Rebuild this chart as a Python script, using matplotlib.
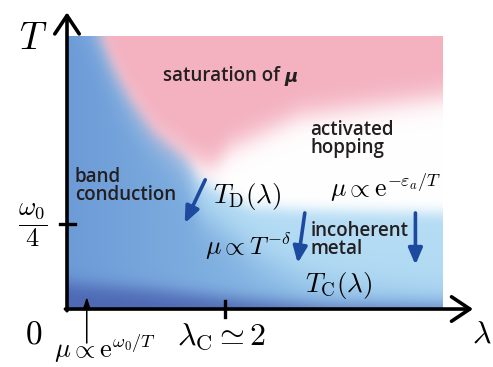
import numpy as np
import matplotlib.pyplot as plt
from matplotlib.colors import to_rgb

plt.rcParams['mathtext.fontset'] = 'cm'

# units: lambda_C = 2 on the x axis, omega_0/4 = 1 on the T axis
lam_max, T_max = 4.75, 3.21
lam_c, T_tick = 2.0, 1.0

# lower edge of the pink "saturation" region
pink_lam = [0.0, 0.30, 0.42, 0.58, 0.80, 1.09, 1.52, 1.77, 1.90, 2.06, 2.95, 4.75]
pink_T = [4.2, 3.55, 3.21, 2.85, 2.46, 2.07, 1.78, 1.68, 1.72, 1.90, 2.28, 2.50]

# upper edge of the blue region
blue_lam = [0.0, 0.30, 0.42, 0.58, 0.80, 1.09, 1.52, 1.70, 2.32, 3.11, 4.75]
blue_T = [4.2, 3.55, 3.21, 2.85, 2.46, 2.07, 1.74, 1.50, 1.20, 1.16, 1.13]

# edge between medium blue (below) and light blue (above), and how light it gets
light_lam = [0.0, 0.30, 0.60, 0.90, 1.20, 1.50, 1.68, 2.44, 2.95, 3.58, 4.75]
light_T = [3.7, 3.25, 2.62, 2.15, 1.88, 1.62, 1.13, 0.61, 0.38, 0.22, 0.11]
gain_lam = [0.0, 1.30, 1.70]
gain = [0.45, 0.5, 1.0]

# dark band along the lambda axis
dark_lam = [0.0, 0.2, 1.05, 2.3, 3.3, 4.75]
dark_T = [0.30, 0.28, 0.22, 0.10, 0.02, 0.0]

pink = np.array(to_rgb('#f4b1c0'))
white = np.array([1.0, 1.0, 1.0])
light = np.array(to_rgb('#b4dcf4'))
mid_left = np.array(to_rgb('#6d9bd7'))
mid_right = np.array(to_rgb('#8bbce6'))
dark = np.array(to_rgb('#4a62b0'))
edge = np.array(to_rgb('#86b6e6'))


def sig(z):
    return 1.0 / (1.0 + np.exp(-z))


def blur(a, s):
    k = np.exp(-0.5 * (np.arange(-3 * s, 3 * s + 1) / s) ** 2)
    k /= k.sum()
    n = len(k) // 2
    a = np.pad(a, ((n, n), (n, n), (0, 0)), mode='edge')
    a = np.apply_along_axis(lambda v: np.convolve(v, k, mode='valid'), 0, a)
    a = np.apply_along_axis(lambda v: np.convolve(v, k, mode='valid'), 1, a)
    return a


lam = np.linspace(0, lam_max, 375)
T = np.linspace(0, T_max, 273)
LL, TT = np.meshgrid(lam, T)
P = np.interp(lam, pink_lam, pink_T)[None, :]
B = np.interp(lam, blue_lam, blue_T)[None, :]
C = np.interp(lam, light_lam, light_T)[None, :]
G = np.interp(lam, gain_lam, gain)[None, :]
D = np.interp(lam, dark_lam, dark_T)[None, :]

wp = sig((TT - P) / 0.08)
wb = sig((B - TT) / 0.03)
ww = np.clip(1 - wp - wb, 0, None)
norm = wp + wb + ww

fr = np.clip(LL / 3.0, 0, 1)[..., None]
mid = mid_left * (1 - fr) + mid_right * fr
wl = (G * sig((TT - C) / 0.13))[..., None]
blue = light * wl + mid * (1 - wl)
we = (0.8 * sig((0.07 - TT) / 0.03))[..., None]
blue = blue * (1 - we) + edge * we
wd = (0.9 * sig((D - TT) / 0.045))[..., None]
blue = blue * (1 - wd) + dark * wd

img = (pink * wp[..., None] + white * ww[..., None] + blue * wb[..., None]) / norm[..., None]
img = np.clip(blur(img, 5), 0, 1)

fig = plt.figure(figsize=(4.93, 3.67), dpi=100)
ax = fig.add_axes([0, 0, 1, 1])
ax.set_xlim(-0.848, 5.392)
ax.set_ylim(-0.682, 3.635)
ax.axis('off')

ax.imshow(img, extent=(0, lam_max, 0, T_max), origin='lower', aspect='auto',
          interpolation='bilinear', zorder=0)

# axes with open arrow heads
head = '->,head_length=0.6,head_width=0.4'
ax.annotate('', xy=(5.14, 0), xytext=(-0.02, 0),
            arrowprops=dict(arrowstyle=head, lw=2.6, color='black',
                            shrinkA=0, shrinkB=0, mutation_scale=22))
ax.annotate('', xy=(0, 3.49), xytext=(0, -0.02),
            arrowprops=dict(arrowstyle=head, lw=2.6, color='black',
                            shrinkA=0, shrinkB=0, mutation_scale=22))
ax.plot([-0.09, 0.10], [T_tick, T_tick], color='black', lw=2.4)
ax.plot([lam_c, lam_c], [-0.095, 0.095], color='black', lw=2.4)

ax.text(-0.424, 3.18, r'$T$', fontsize=27, ha='center', va='center')
ax.text(5.25, -0.39, r'$\lambda$', fontsize=23, ha='center', va='baseline')
ax.text(-0.42, -0.40, r'$0$', fontsize=24, ha='center', va='baseline')
ax.text(-0.43, 0.98, r'$\dfrac{\omega_0}{4}$', fontsize=19, ha='center', va='center')
ax.text(1.96, -0.42, r'$\lambda_{\rm C}\simeq 2$', fontsize=23, ha='center', va='baseline')
ax.text(0.48, -0.58, r'$\mu\propto {\rm e}^{\omega_0/T}$', fontsize=19, ha='center', va='baseline')
ax.annotate('', xy=(0.25, 0.14), xytext=(0.25, -0.40),
            arrowprops=dict(arrowstyle='-|>,head_length=0.6,head_width=0.2',
                            lw=1.1, color='black', shrinkA=0, shrinkB=0,
                            mutation_scale=12))

sans = dict(family='Open Sans', fontweight='semibold', color='#231f20', fontsize=13.5)
sat = ax.text(1.98, 2.74, 'saturation of ', ha='center', va='center', **sans)
ax.annotate('μ', xy=(1, 0), xycoords=sat, ha='left', va='bottom',
            family='DejaVu Sans', fontweight='bold', fontstyle='italic',
            color='#231f20', fontsize=13)
ax.text(3.08, 2.0, 'activated\nhopping', ha='left', va='center', linespacing=0.85, **sans)
ax.text(0.10, 1.45, 'band\nconduction', ha='left', va='center', linespacing=0.85, **sans)
ax.text(3.08, 0.81, 'incoherent\nmetal', ha='left', va='center', linespacing=0.85, **sans)

ax.text(1.85, 1.25, r'$T_{\rm D}(\lambda)$', fontsize=19.5, ha='left', va='baseline')
ax.text(3.33, 1.32, r'$\mu\propto {\rm e}^{-\varepsilon_a/T}$', fontsize=18.5, ha='left', va='baseline')
ax.text(1.75, 0.635, r'$\mu\propto T^{-\delta}$', fontsize=18.5, ha='left', va='baseline')
ax.text(3.01, 0.20, r'$T_{\rm C}(\lambda)$', fontsize=19.5, ha='left', va='baseline')

arrow_blue = '#1d4a9e'
for start, end in [((1.75, 1.52), (1.49, 1.01)),
                   ((3.01, 1.13), (2.92, 0.54)),
                   ((4.41, 1.13), (4.41, 0.52))]:
    ax.annotate('', xy=end, xytext=start,
                arrowprops=dict(arrowstyle='-|>,head_length=0.7,head_width=0.3',
                                lw=2.6, color=arrow_blue, shrinkA=0, shrinkB=0,
                                mutation_scale=14))

fig.savefig('out.png', dpi=100)
